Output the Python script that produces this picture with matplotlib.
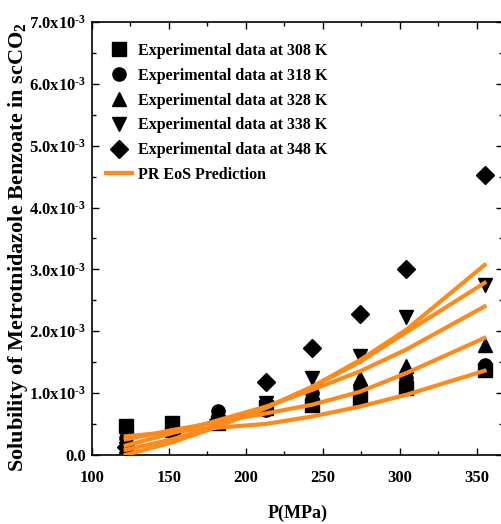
import matplotlib
matplotlib.use("Agg")
import matplotlib.pyplot as plt
from matplotlib.ticker import FuncFormatter, MultipleLocator

plt.rcParams['font.family'] = ['Liberation Serif', 'DejaVu Serif']
plt.rcParams['font.weight'] = 'bold'
plt.rcParams['mathtext.fontset'] = 'custom'
plt.rcParams['mathtext.rm'] = 'Liberation Serif:bold'
plt.rcParams['mathtext.bf'] = 'Liberation Serif:bold'
plt.rcParams['mathtext.it'] = 'Liberation Serif:bold'
plt.rcParams['mathtext.default'] = 'bf'

pressure = [122, 152, 182, 213, 243, 274, 304, 355]
sol_308 = [0.47, 0.52, 0.51, 0.77, 0.80, 0.92, 1.08, 1.37]
sol_318 = [0.27, 0.40, 0.71, 0.72, 1.00, 1.10, 1.24, 1.45]
sol_328 = [0.15, 0.40, 0.58, 0.75, 1.02, 1.24, 1.44, 1.78]
sol_338 = [0.10, 0.32, 0.53, 0.84, 1.24, 1.60, 2.23, 2.75]
sol_348 = [0.13, 0.37, 0.56, 1.17, 1.73, 2.28, 3.00, 4.52]

pr_308 = [0.30, 0.37, 0.44, 0.50, 0.62, 0.78, 0.97, 1.36]
pr_318 = [0.25, 0.40, 0.53, 0.67, 0.81, 1.02, 1.32, 1.89]
pr_328 = [0.15, 0.35, 0.56, 0.78, 1.05, 1.35, 1.70, 2.40]
pr_338 = [0.08, 0.25, 0.48, 0.76, 1.10, 1.50, 1.98, 2.78]
pr_348 = [0.00, 0.20, 0.46, 0.76, 1.10, 1.53, 2.02, 3.07]

labels = ["Experimental data at 308 K", "Experimental data at 318 K",
          "Experimental data at 328 K", "Experimental data at 338 K",
          "Experimental data at 348 K"]
markers = ['s', 'o', '^', 'v', 'D']
orange = '#ff8a1c'

fig = plt.figure(figsize=(5.02, 5.24), dpi=100)
ax = fig.add_axes([0.183, 0.132, 0.819, 0.826])

for s, lab, m in zip([sol_308, sol_318, sol_328, sol_338, sol_348], labels, markers):
    ms = 9 if m == 'D' else 9.5
    ax.plot(pressure, [v * 1e-3 for v in s], linestyle='none', marker=m,
            color='black', markersize=ms, label=lab)

for i, c in enumerate([pr_308, pr_318, pr_328, pr_338, pr_348]):
    ax.plot(pressure, [v * 1e-3 for v in c], color=orange, lw=3,
            label="PR EoS Prediction" if i == 0 else None, zorder=3)

ax.set_xlim(100, 367)
ax.set_ylim(0, 7e-3)
ax.xaxis.set_major_locator(MultipleLocator(50))
ax.xaxis.set_minor_locator(MultipleLocator(25))
ax.yaxis.set_major_locator(MultipleLocator(1e-3))
ax.yaxis.set_minor_locator(MultipleLocator(0.5e-3))

def fmt(v, pos):
    if abs(v) < 1e-9:
        return "0.0"
    return "%.1fx10$^{\u2010 3}$" % (v * 1e3)

ax.yaxis.set_major_formatter(FuncFormatter(fmt))
ax.tick_params(which='both', direction='in', top=True, right=True, labelsize=12)
ax.tick_params(axis='x', which='major', pad=11)
ax.tick_params(axis='y', which='major', pad=4)
ax.tick_params(which='major', length=5, width=1)
ax.tick_params(which='minor', length=3, width=1)
for lab in ax.get_xticklabels() + ax.get_yticklabels():
    lab.set_fontweight('bold')
for sp in ax.spines.values():
    sp.set_linewidth(1.2)

ax.set_xlabel("P(MPa)", fontsize=13, fontweight='bold')
ax.xaxis.set_label_coords(0.5, -0.115)
ax.set_ylabel("Solubility of Metrotnidazole Benzoate in scCO$_2$", fontsize=16,
              fontweight='bold')
ax.yaxis.set_label_coords(-0.15, 0.48)

leg = ax.legend(loc='upper left', frameon=False, handlelength=1.65,
                bbox_to_anchor=(0.015, 0.97),
                borderaxespad=0.2, labelspacing=0.55, handletextpad=0.35,
                borderpad=0.3, prop={'weight': 'bold', 'size': 11.5})

fig.savefig("out.png", dpi=100)
